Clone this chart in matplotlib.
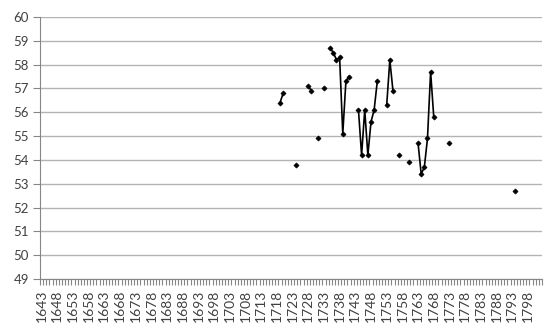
import numpy as np
import pandas as pd
import matplotlib
matplotlib.use("Agg")
import matplotlib.pyplot as plt
from matplotlib.ticker import FixedLocator

plt.rcParams['font.family'] = ['Lato', 'DejaVu Sans']

# Category range on the x axis
first_year = 1643
last_year = 1802

# Observed values (years without a value are left empty)
years = [1719, 1720, 1724, 1728, 1729, 1731, 1733,
         1735, 1736, 1737, 1738, 1739, 1740, 1741,
         1744, 1745, 1746, 1747, 1748, 1749, 1750,
         1753, 1754, 1755, 1757, 1760,
         1763, 1764, 1765, 1766, 1767, 1768,
         1773, 1794]
values = [56.4, 56.8, 53.8, 57.1, 56.9, 54.9, 57.0,
          58.7, 58.5, 58.2, 58.3, 55.1, 57.3, 57.5,
          56.1, 54.2, 56.1, 54.2, 55.6, 56.1, 57.3,
          56.3, 58.2, 56.9, 54.2, 53.9,
          54.7, 53.4, 53.7, 54.9, 57.7, 55.8,
          54.7, 52.7]

all_years = np.arange(first_year, last_year + 1)
series = pd.Series(values, index=years).reindex(all_years)
pos = np.arange(len(all_years))

fig = plt.figure(figsize=(5.55, 3.3), dpi=100)
ax = fig.add_axes([40 / 555, 1 - 279 / 330, 502 / 555, 262 / 330])

ax.plot(pos, series.values, color='black', lw=1.2, marker='D', ms=2.6,
        markeredgewidth=0.5, zorder=3)

ax.set_ylim(49, 60)
ax.set_yticks(range(49, 61))
ax.set_xlim(-0.5, len(all_years) - 0.5)
ax.grid(axis='y', color='#b3b3b3', lw=1)
ax.set_axisbelow(True)

# labels every 5 years, tick marks between every category
lab_pos = pos[::5]
ax.set_xticks(lab_pos)
ax.set_xticklabels([str(y) for y in all_years[::5]], rotation=90)
ax.xaxis.set_minor_locator(FixedLocator(np.arange(len(all_years) + 1) - 0.5))
ax.tick_params(axis='x', which='major', length=0, labelsize=10,
               labelcolor='#404040', pad=8)
ax.tick_params(axis='x', which='minor', length=4, color='#868686', width=0.8)
ax.tick_params(axis='y', length=5, color='#868686', labelsize=9.5,
               labelcolor='#404040', pad=3)

for side in ['top', 'right']:
    ax.spines[side].set_visible(False)
for side in ['left', 'bottom']:
    ax.spines[side].set_color('#868686')

fig.savefig('out.png', dpi=100)
